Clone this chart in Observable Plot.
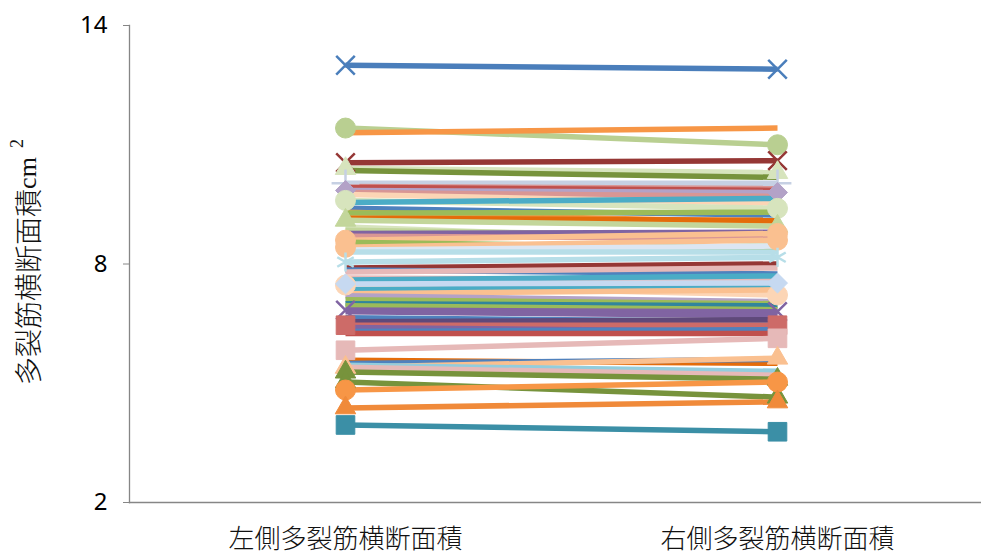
<!DOCTYPE html>
<html>
<head>
<meta charset="utf-8">
<script src="https://cdn.jsdelivr.net/npm/d3@7"></script>
<script src="https://cdn.jsdelivr.net/npm/@observablehq/plot@0.6"></script>
<style>
  html, body { margin: 0; padding: 0; background: #fff; }
  #chart svg { display: block; }
</style>
</head>
<body>
<div id="chart"></div>
<script>
// Two measurement sides
const categories = ["左側多裂筋横断面積", "右側多裂筋横断面積"];
const yTicks = [2, 8, 14];

// Cross-sectional area (cm²) per subject, left and right
const leftValues = [13.00, 11.42, 11.30, 10.55, 10.40, 10.35, 10.03, 9.95, 9.93, 9.85,
  9.80, 9.75, 9.60, 9.55, 9.40, 9.30, 9.28, 9.15, 9.10, 8.93,
  8.85, 8.77, 8.70, 8.60, 8.55, 8.42, 8.35, 8.30, 8.05, 7.90,
  7.85, 7.80, 7.65, 7.60, 7.47, 7.35, 7.50, 7.25, 7.20, 7.10,
  7.00, 6.95, 6.84, 6.80, 6.65, 6.55, 6.46, 6.40, 6.30, 6.25,
  5.83, 5.58, 5.50, 5.40, 5.45, 5.40, 5.28, 5.03, 4.83, 4.38, 3.95];
const rightValues = [12.90, 11.00, 11.42, 10.60, 10.30, 10.18, 10.03, 9.90, 9.85, 9.80,
  9.70, 9.53, 9.40, 9.65, 9.23, 9.05, 9.30, 9.10, 8.95, 8.55,
  8.70, 8.80, 8.65, 8.77, 8.40, 8.60, 8.45, 8.30, 8.17, 8.00,
  7.75, 7.90, 7.60, 7.70, 7.22, 7.45, 7.52, 7.35, 7.05, 7.00,
  6.95, 6.85, 6.80, 6.70, 6.55, 6.60, 6.46, 6.30, 6.35, 6.25,
  6.13, 5.50, 5.60, 5.63, 5.30, 5.20, 5.10, 4.65, 5.03, 4.53, 3.78];

// Series styling (one entry per subject)
const seriesColors = ["#4A7EBB", "#B9CF91", "#F79646", "#953735", "#D7E4BD", "#77933C", "#C6D0E3", "#D99694", "#C0504D", "#B3A2C7",
  "#D99694", "#FCD5B5", "#D7E4BD", "#4BACC6", "#4F81BD", "#F79646", "#9BBB59", "#E46C0A", "#C3D69B", "#D7E4BD",
  "#C3D69B", "#8064A2", "#D99694", "#FAC090", "#9BBB59", "#FAC090", "#DCE6F2", "#B7DEE8", "#B7DEE8", "#953735",
  "#4F81BD", "#E6B9B8", "#E6B9B8", "#4BACC6", "#FCD5B5", "#4BACC6", "#C6D9F1", "#FAC090", "#B3A2C7", "#9BBB59",
  "#31859C", "#9BBB59", "#8064A2", "#8064A2", "#4F81BD", "#5F497A", "#CD6B68", "#8064A2", "#4F81BD", "#C0504D",
  "#E6B9B8", "#E46C0A", "#4F81BD", "#FAC090", "#93CDDD", "#E6B9B8", "#77933C", "#77933C", "#F79646", "#F08A3A", "#3B8FA6"];
const seriesMarkers = ["times", "circle", "dash", "times", "triangle", "dash", "plus", "dash", "dash", "diamond2",
  "dash", "dash", "circle", "dash", "dash", "dash", "dash", "dash", "triangle", "dash",
  "dash", "dash", "dash", "circle", "dash", "circle", "dash", "dash", "asterisk", "dash",
  "dash", "dash", "dash", "dash", "circle", "dash", "diamond2", "dash", "dash", "dash",
  "dash", "dash", "times", "dash", "dash", "dash", "square", "dash", "dash", "dash",
  "square", "dash", "dash", "triangle", "dash", "dash", "triangle", "triangle", "circle", "triangle", "square"];

const rows = leftValues.flatMap((v, i) => [
  {id: i, side: categories[0], value: v},
  {id: i, side: categories[1], value: rightValues[i]}
]);

const strokeOnly = new Set(["times", "plus", "asterisk"]);
// symbol radius so that each marker spans about 20px
const symbolRadius = {circle: 10, square: 10.5, triangle: 7.6, diamond2: 9, times: 8.5, plus: 9, asterisk: 9};

const seriesMarks = [];
// connecting lines first
leftValues.forEach((_, i) => {
  seriesMarks.push(Plot.line(rows.filter(d => d.id === i), {
    x: "side", y: "value", stroke: seriesColors[i], strokeWidth: 5.5, strokeLinecap: "butt"
  }));
});
// then the end markers
leftValues.forEach((_, i) => {
  const m = seriesMarkers[i];
  if (m === "dash") return; // dash marker is hidden by its own line
  const pts = rows.filter(d => d.id === i);
  if (strokeOnly.has(m)) {
    seriesMarks.push(Plot.dot(pts, {x: "side", y: "value", symbol: m, r: symbolRadius[m],
      stroke: seriesColors[i], strokeWidth: 2.5, fill: "none"}));
  } else {
    seriesMarks.push(Plot.dot(pts, {x: "side", y: "value", symbol: m, r: symbolRadius[m],
      fill: seriesColors[i], stroke: seriesColors[i], strokeWidth: 1}));
  }
});

const chart = Plot.plot({
  width: 981,
  height: 554,
  marginLeft: 129,
  marginRight: 0,
  marginTop: 25,
  marginBottom: 52,
  style: {fontFamily: "'Noto Sans', sans-serif", background: "#fff"},
  x: {type: "point", domain: categories, padding: 0.486, align: 0.514, label: null},
  y: {domain: [2, 14], label: null},
  marks: [
    Plot.frame({anchor: "left", stroke: "#868686", strokeWidth: 1.3}),
    Plot.frame({anchor: "bottom", stroke: "#868686", strokeWidth: 1.3}),
    Plot.axisY({ticks: yTicks, tickSize: 6, tickPadding: 16, stroke: "#868686",
      fontSize: 24, fill: "#000", label: null}),
    Plot.axisX({tickSize: 0, tickPadding: 27, fontSize: 26, fill: "#111",
      fontFamily: "'Noto Sans CJK JP', sans-serif", fontWeight: 300, label: null}),
    ...seriesMarks
  ]
});

document.getElementById("chart").appendChild(chart);

// rotated y-axis title with superscript unit
const svg = d3.select(chart);
const title = svg.append("text")
  .attr("transform", "translate(27,262) rotate(-90)")
  .attr("text-anchor", "middle")
  .attr("dominant-baseline", "central")
  .attr("font-family", "'Noto Sans CJK JP', sans-serif")
  .attr("font-weight", 300)
  .attr("font-size", 28)
  .attr("fill", "#111");
title.append("tspan").text("多裂筋横断面積");
title.append("tspan").attr("font-family", "'Liberation Serif', serif").attr("font-size", 26).text("cm");
title.append("tspan").attr("dx", 9).attr("dy", -10).attr("font-size", 18)
  .attr("font-family", "'Liberation Serif', serif").text("2");
</script>
</body>
</html>
